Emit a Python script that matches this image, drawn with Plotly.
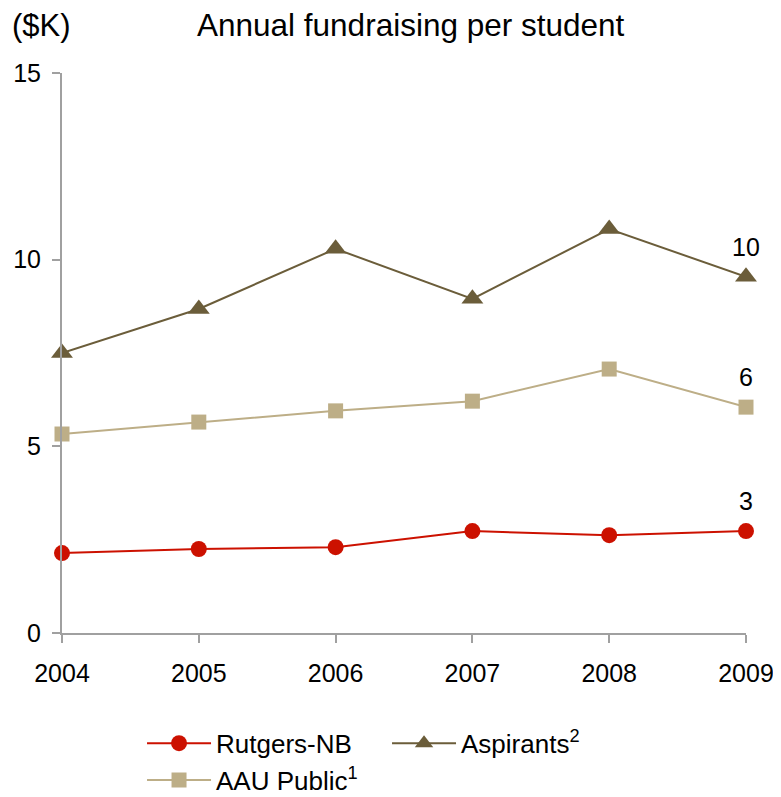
import plotly.graph_objects as go

years = [2004, 2005, 2006, 2007, 2008, 2009]
rutgers = [2.14, 2.25, 2.30, 2.73, 2.62, 2.73]
aau_public = [5.33, 5.65, 5.95, 6.21, 7.07, 6.05]
aspirants = [7.50, 8.68, 10.29, 8.95, 10.82, 9.54]

series_names = ["Rutgers-NB", "Aspirants<sup>2</sup>", "AAU Public<sup>1</sup>"]
series_values = [rutgers, aspirants, aau_public]
colors = ["#CC1100", "#6B5D3A", "#BDAE87"]
symbols = ["circle", "triangle-up", "square"]
sizes = [16, 19, 15]

FONT = "Liberation Sans, Arial, sans-serif"

fig = go.Figure()
for name, vals, c, s, sz in zip(series_names, series_values, colors, symbols, sizes):
    fig.add_trace(go.Scatter(
        x=years, y=vals, name=name, mode="lines+markers",
        line=dict(color=c, width=2),
        marker=dict(symbol=s, size=sz, color=c),
        cliponaxis=False,
    ))
    fig.add_annotation(x=years[-1], y=vals[-1], text=str(round(vals[-1])),
                       showarrow=False, yshift=30, yanchor="middle",
                       font=dict(size=25, color="#000000", family=FONT))

fig.add_annotation(xref="paper", yref="paper", x=0.51, y=1, yshift=48, yanchor="middle",
                   text="Annual fundraising per student", showarrow=False,
                   font=dict(size=31.5, color="#000000", family=FONT))
fig.add_annotation(xref="paper", yref="paper", x=-0.076, xanchor="left", y=1, yshift=48,
                   yanchor="middle", text="($K)", showarrow=False,
                   font=dict(size=31, color="#000000", family=FONT))

fig.update_layout(
    width=773, height=789,
    margin=dict(l=54, r=35, t=65, b=164, autoexpand=False),
    plot_bgcolor="white", paper_bgcolor="white",
    font=dict(family=FONT, size=25, color="#000000"),
    showlegend=True,
    legend=dict(orientation="h", x=0.117, xanchor="left", y=-0.155, yanchor="top",
                entrywidth=166, entrywidthmode="pixels",
                font=dict(size=26), itemwidth=64, tracegroupgap=0),
    xaxis=dict(range=[2004, 2009], tickvals=years, ticktext=[str(y) for y in years],
               showgrid=False, zeroline=False, showline=True, linecolor="#A0A0A0",
               linewidth=2, ticks="outside", ticklen=8, tickwidth=2, tickcolor="#A0A0A0",
               ticklabelstandoff=9, automargin=False),
    yaxis=dict(range=[0, 15], tickvals=[0, 5, 10, 15],
               showgrid=False, zeroline=False, showline=True, linecolor="#A0A0A0",
               linewidth=2, ticks="outside", ticklen=8, tickwidth=2, tickcolor="#A0A0A0",
               ticklabelstandoff=6, automargin=False),
)

fig.write_html("out.html")
